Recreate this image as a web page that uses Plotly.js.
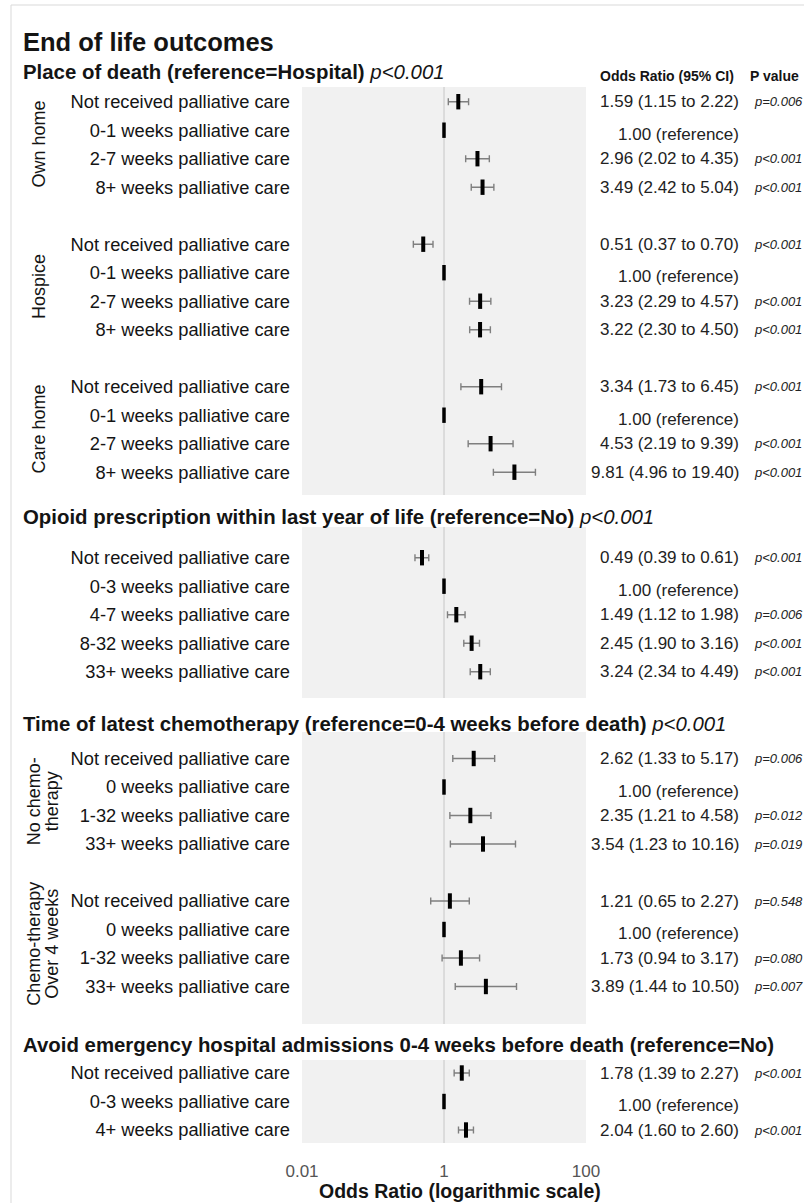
<!DOCTYPE html>
<html><head><meta charset="utf-8">
<script src="https://cdn.plot.ly/plotly-3.0.1.min.js"></script>
<style>html,body{margin:0;padding:0;background:#fff;}</style>
</head><body>
<div id="chart" style="width:804px;height:1203px"></div>
<script>
// ---------------- DATA ----------------
const chartTitle = "End of life outcomes";
const sectionTitles = [
  "Place of death (reference=Hospital)",
  "Opioid prescription within last year of life (reference=No)",
  "Time of latest chemotherapy (reference=0-4 weeks before death)",
  "Avoid emergency hospital admissions 0-4 weeks before death (reference=No)"
];
const sectionP = ["p<0.001", "p<0.001", "p<0.001", ""];
const headerOR = "Odds Ratio (95% CI)";
const headerP = "P value";
const xTickVals = [0.01, 1, 100];
const xTickText = ["0.01", "1", "100"];
const xTitle = "Odds Ratio (logarithmic scale)";

// Place of death
const placeLabels = ["Not received palliative care", "0-1 weeks palliative care", "2-7 weeks palliative care", "8+ weeks palliative care"];
const ownHomeName = ["Own home"];
const ownHomeOR = [1.59, 1.00, 2.96, 3.49];
const ownHomeLo = [1.15, null, 2.02, 2.42];
const ownHomeHi = [2.22, null, 4.35, 5.04];
const ownHomeP  = ["p=0.006", "", "p<0.001", "p<0.001"];
const hospiceName = ["Hospice"];
const hospiceOR = [0.51, 1.00, 3.23, 3.22];
const hospiceLo = [0.37, null, 2.29, 2.30];
const hospiceHi = [0.70, null, 4.57, 4.50];
const hospiceP  = ["p<0.001", "", "p<0.001", "p<0.001"];
const careHomeName = ["Care home"];
const careHomeOR = [3.34, 1.00, 4.53, 9.81];
const careHomeLo = [1.73, null, 2.19, 4.96];
const careHomeHi = [6.45, null, 9.39, 19.40];
const careHomeP  = ["p<0.001", "", "p<0.001", "p<0.001"];

// Opioid prescription
const opioidLabels = ["Not received palliative care", "0-3 weeks palliative care", "4-7 weeks palliative care", "8-32 weeks palliative care", "33+ weeks palliative care"];
const opioidOR = [0.49, 1.00, 1.49, 2.45, 3.24];
const opioidLo = [0.39, null, 1.12, 1.90, 2.34];
const opioidHi = [0.61, null, 1.98, 3.16, 4.49];
const opioidP  = ["p<0.001", "", "p=0.006", "p<0.001", "p<0.001"];

// Chemotherapy
const chemoLabels = ["Not received palliative care", "0 weeks palliative care", "1-32 weeks palliative care", "33+ weeks palliative care"];
const noChemoName = ["No chemo-", "therapy"];
const noChemoOR = [2.62, 1.00, 2.35, 3.54];
const noChemoLo = [1.33, null, 1.21, 1.23];
const noChemoHi = [5.17, null, 4.58, 10.16];
const noChemoP  = ["p=0.006", "", "p=0.012", "p=0.019"];
const chemoOverName = ["Chemo-therapy", "Over 4 weeks"];
const chemoOverOR = [1.21, 1.00, 1.73, 3.89];
const chemoOverLo = [0.65, null, 0.94, 1.44];
const chemoOverHi = [2.27, null, 3.17, 10.50];
const chemoOverP  = ["p=0.548", "", "p=0.080", "p=0.007"];

// Emergency admissions
const avoidLabels = ["Not received palliative care", "0-3 weeks palliative care", "4+ weeks palliative care"];
const avoidOR = [1.78, 1.00, 2.04];
const avoidLo = [1.39, null, 1.60];
const avoidHi = [2.27, null, 2.60];
const avoidP  = ["p<0.001", "", "p<0.001"];

// ---------------- STRUCTURE ----------------
const sections = [
  [
    {name: ownHomeName, labels: placeLabels, or: ownHomeOR, lo: ownHomeLo, hi: ownHomeHi, p: ownHomeP},
    {name: hospiceName, labels: placeLabels, or: hospiceOR, lo: hospiceLo, hi: hospiceHi, p: hospiceP},
    {name: careHomeName, labels: placeLabels, or: careHomeOR, lo: careHomeLo, hi: careHomeHi, p: careHomeP}
  ],
  [
    {name: [], labels: opioidLabels, or: opioidOR, lo: opioidLo, hi: opioidHi, p: opioidP}
  ],
  [
    {name: noChemoName, labels: chemoLabels, or: noChemoOR, lo: noChemoLo, hi: noChemoHi, p: noChemoP},
    {name: chemoOverName, labels: chemoLabels, or: chemoOverOR, lo: chemoOverLo, hi: chemoOverHi, p: chemoOverP}
  ],
  [
    {name: [], labels: avoidLabels, or: avoidOR, lo: avoidLo, hi: avoidHi, p: avoidP}
  ]
];

// ---------------- STYLE / LAYOUT CONSTANTS ----------------
const W = 804, H = 1203;
const FONT = "Liberation Sans, Arimo, Arial, sans-serif";
const TXT = "#141414";
const panels = [
  {top: 87,   bottom: 495,  first: 101.7},
  {top: 527,  bottom: 698,  first: 557.7},
  {top: 732,  bottom: 1024, first: 758.5},
  {top: 1060, bottom: 1143, first: 1073}
];
const rowStep = 28.5;
const titleYpx = [71.7, 516.7, 724, 1045];
const plotLeft = 302, plotRight = 586;
const orRightPx = 741, pLeftPx = 752;
const groupLabelX1 = [39];
const groupLabelX2 = [34, 52];

const px = v => v / W;
const py = v => 1 - v / H;

const traces = [];
const annotations = [];
const shapes = [];
const layout = {
  width: W, height: H,
  margin: {l: 0, r: 0, t: 0, b: 0},
  paper_bgcolor: "#ffffff",
  plot_bgcolor: "#f1f1f1",
  showlegend: false,
  font: {family: FONT, color: TXT},
  xaxis: {
    type: "log", range: [-2, 2], domain: [px(plotLeft), px(plotRight)],
    anchor: "y4", tickmode: "array", tickvals: xTickVals, ticktext: xTickText,
    showgrid: false, zeroline: false, showline: false, ticks: "",
    ticklabelstandoff: 16,
    tickfont: {family: FONT, size: 17, color: "#555555"},
    automargin: false, fixedrange: true
  },
  annotations: annotations,
  shapes: shapes
};

// Main title
annotations.push({xref: "paper", yref: "paper", x: px(21), y: py(41.7), xanchor: "left", yanchor: "middle",
  text: "<b>" + chartTitle + "</b>", showarrow: false, font: {family: FONT, size: 25.5, color: TXT}});
// Header
annotations.push({xref: "paper", yref: "paper", x: px(736), y: py(76), xanchor: "right", yanchor: "middle",
  text: "<b>" + headerOR + "</b>", showarrow: false, font: {family: FONT, size: 14, color: TXT}});
annotations.push({xref: "paper", yref: "paper", x: px(748), y: py(76), xanchor: "left", yanchor: "middle",
  text: "<b>" + headerP + "</b>", showarrow: false, font: {family: FONT, size: 14, color: TXT}});
// X axis title
annotations.push({xref: "paper", yref: "paper", x: px(317), y: py(1191), xanchor: "left", yanchor: "middle",
  text: "<b>" + xTitle + "</b>", showarrow: false, font: {family: FONT, size: 19.5, color: TXT}});

const esc = s => s.replace(/</g, "&lt;");

sections.forEach((groups, si) => {
  const yId = si === 0 ? "y" : "y" + (si + 1);
  const yKey = si === 0 ? "yaxis" : "yaxis" + (si + 1);
  const P = panels[si];
  const tickvals = [], ticktext = [];
  const ex = [], ey = [], ePlus = [], eMinus = [];
  const rx = [], ry = [];

  // section title
  let t = "<b>" + sectionTitles[si] + "</b>";
  if (sectionP[si]) t += " <i>" + esc(sectionP[si]) + "</i>";
  annotations.push({xref: "paper", yref: "paper", x: px(21), y: py(titleYpx[si]), xanchor: "left", yanchor: "middle",
    text: t, showarrow: false, font: {family: FONT, size: 20.4, color: TXT}});

  groups.forEach((g, gi) => {
    const base = gi * (g.labels.length + 1);
    g.labels.forEach((lab, k) => {
      const row = base + k;
      tickvals.push(row);
      ticktext.push(lab);
      const isRef = g.lo[k] === null;
      if (isRef) {
        rx.push(g.or[k]); ry.push(row);
      } else {
        ex.push(g.or[k]); ey.push(row);
        ePlus.push(g.hi[k] - g.or[k]);
        eMinus.push(g.or[k] - g.lo[k]);
      }
      const orText = isRef ? g.or[k].toFixed(2) + " (reference)"
        : g.or[k].toFixed(2) + " (" + g.lo[k].toFixed(2) + " to " + g.hi[k].toFixed(2) + ")";
      annotations.push({xref: "paper", yref: yId, x: px(orRightPx), y: row, xanchor: "right", yanchor: "middle",
        yshift: isRef ? -4 : 0,
        text: orText, showarrow: false, font: {family: FONT, size: 17, color: "#222222"}});
      if (g.p[k]) {
        annotations.push({xref: "paper", yref: yId, x: px(pLeftPx), y: row, xanchor: "left", yanchor: "middle",
          text: "<i>" + esc(g.p[k]) + "</i>", showarrow: false, font: {family: FONT, size: 13, color: "#222222"}});
      }
    });
    // group label (rotated)
    if (g.name.length) {
      const mid = base + (g.labels.length - 1) / 2;
      const xs = g.name.length === 1 ? groupLabelX1 : groupLabelX2;
      g.name.forEach((line, li) => {
        annotations.push({xref: "paper", yref: yId, x: px(xs[li]), y: mid, xanchor: "center", yanchor: "middle",
          textangle: -90, text: line, showarrow: false, font: {family: FONT, size: 18, color: TXT}});
      });
    }
  });

  layout[yKey] = {
    domain: [py(P.bottom), py(P.top)],
    range: [(P.bottom - P.first) / rowStep, (P.top - P.first) / rowStep],
    autorange: false, anchor: "x",
    tickmode: "array", tickvals: tickvals, ticktext: ticktext,
    ticks: "", showgrid: false, zeroline: false, showline: false,
    ticklabelstandoff: 11,
    tickfont: {family: FONT, size: 18.3, color: TXT},
    automargin: false, fixedrange: true
  };

  // reference line at OR = 1
  shapes.push({type: "line", xref: "x", yref: yId + " domain", x0: 1, x1: 1, y0: 0, y1: 1,
    line: {color: "#c6c6c6", width: 1}, layer: "below"});

  traces.push({type: "scatter", mode: "markers", x: ex, y: ey, xaxis: "x", yaxis: yId,
    marker: {symbol: "line-ns", size: 11, color: "#000", line: {width: 4, color: "#000"}}, hoverinfo: "skip",
    error_x: {type: "data", symmetric: false, array: ePlus, arrayminus: eMinus,
      color: "#7f7f7f", thickness: 1.4, width: 3.5}});
  traces.push({type: "scatter", mode: "markers", x: rx, y: ry, xaxis: "x", yaxis: yId,
    marker: {symbol: "line-ns", size: 11, color: "#000", line: {width: 3.5, color: "#000"}}, hoverinfo: "skip"});
});

// light frame around the figure
shapes.push({type: "rect", xref: "paper", yref: "paper", x0: px(11), x1: 1.02, y0: -0.02, y1: py(5),
  line: {color: "#d9d9d9", width: 1}, fillcolor: "rgba(0,0,0,0)", layer: "below"});

Plotly.newPlot("chart", traces, layout, {staticPlot: true, displayModeBar: false});
</script>
</body></html>
